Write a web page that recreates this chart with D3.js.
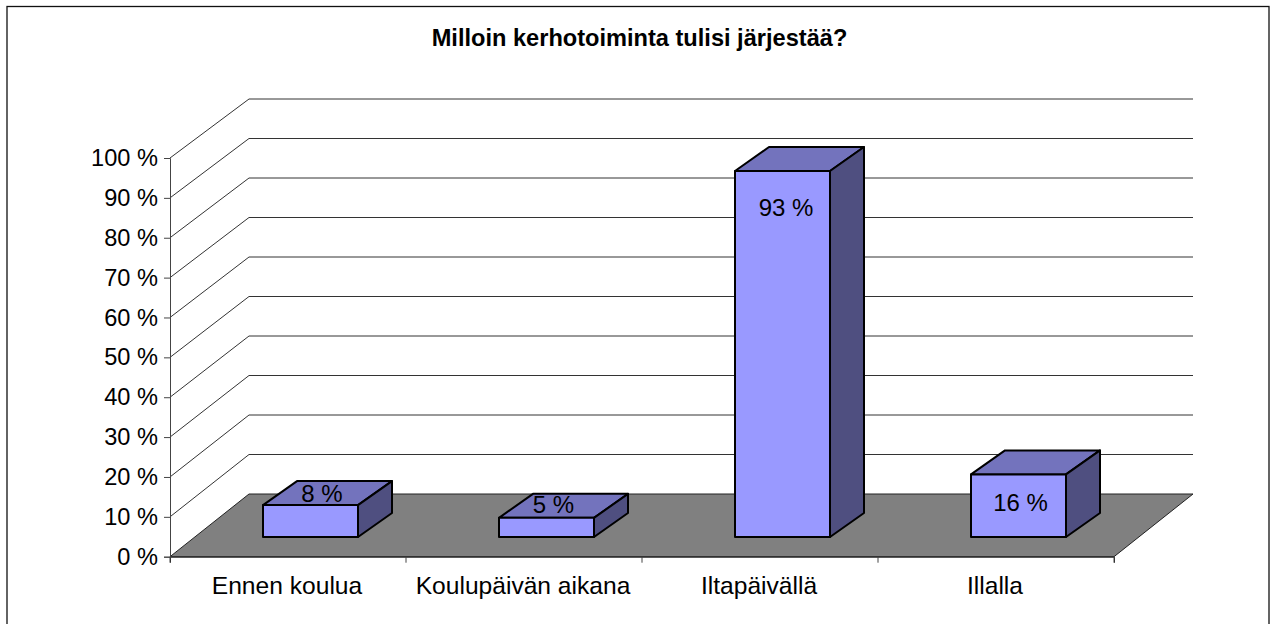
<!DOCTYPE html>
<html>
<head>
<meta charset="utf-8">
<script src="https://d3js.org/d3.v7.min.js"></script>
<style>
    body { margin: 0; background: #fff; }
    svg { display: block; }
    text { font-family: "Liberation Sans", Arial, sans-serif; fill: #000; }
</style>
</head>
<body>
<figure id="chart" style="margin:0"></figure>
<script>
const title = "Milloin kerhotoiminta tulisi järjestää?";
const categories = ["Ennen koulua", "Koulupäivän aikana", "Iltapäivällä", "Illalla"];
// bar heights, the printed labels are a bit different
const barValues = [8, 4.8, 91.8, 15.7];
const barLabels = ["8 %", "5 %", "93 %", "16 %"];
const tickValues = [0, 10, 20, 30, 40, 50, 60, 70, 80, 90, 100];

let dimensions = {
    width: 1274,
    height: 624,
    margin: { top: 158, right: 160, bottom: 67.3, left: 170 },
};
dimensions.boundedWidth = dimensions.width - dimensions.margin.left - dimensions.margin.right;
dimensions.boundedHeight = dimensions.height - dimensions.margin.top - dimensions.margin.bottom;

// 3d offset of the back wall
const depthX = 79;
// bar sits this far into the floor, and has this much depth itself
const barInset = { x: 22, y: 19.7 };
const barDepth = { x: 34, y: 24 };

const svg = d3.select("figure#chart")
    .append("svg")
    .attr("width", dimensions.width)
    .attr("height", dimensions.height);

// chart frame, bottom edge falls outside of the picture
svg.append("rect")
    .attr("x", 7)
    .attr("y", 6.5)
    .attr("width", 1262)
    .attr("height", 640)
    .attr("fill", "#fff")
    .attr("stroke", "#111")
    .attr("stroke-width", 1.3);

svg.append("text")
    .attr("x", 639.5)
    .attr("y", 46)
    .attr("text-anchor", "middle")
    .attr("font-weight", "bold")
    .attr("font-size", 23.6)
    .text(title);

const g = svg.append("g")
    .attr("transform", `translate(${dimensions.margin.left}, ${dimensions.margin.top})`);

const xScale = d3.scaleBand()
    .domain(categories)
    .range([0, dimensions.boundedWidth]);

const yScale = d3.scaleLinear()
    .domain([0, 100])
    .range([dimensions.boundedHeight, 0]);

// back wall comes out a little shorter than the front axis
const yBack = d3.scaleLinear()
    .domain([0, 100])
    .range([dimensions.boundedHeight - 62.7, -59]);

// grid lines run up the side wall and along the back wall
g.selectAll("path.grid")
    .data(tickValues.slice(1))
    .enter()
    .append("path")
    .attr("class", "grid")
    .attr("fill", "none")
    .attr("stroke", "#333")
    .attr("stroke-width", 1)
    .attr("d", d => `M0,${yScale(d)}L${depthX},${yBack(d)}H${dimensions.boundedWidth + depthX}`);

// floor
const y0 = yScale(0);
g.append("path")
    .attr("fill", "#808080")
    .attr("stroke", "#222")
    .attr("stroke-width", 1)
    .attr("d", `M0,${y0}L${depthX},${yBack(0)}H${dimensions.boundedWidth + depthX}L${dimensions.boundedWidth},${y0}Z`);

const xAxis = g.append("g")
    .attr("transform", `translate(0, ${dimensions.boundedHeight})`)
    .call(d3.axisBottom(xScale).tickSize(6).tickValues([]));
xAxis.select(".domain").attr("stroke", "#222");

// category separators, axisBottom puts its own ticks mid band
g.selectAll("line.sep")
    .data(d3.range(categories.length + 1))
    .enter()
    .append("line")
    .attr("class", "sep")
    .attr("x1", i => i * xScale.bandwidth())
    .attr("x2", i => i * xScale.bandwidth())
    .attr("y1", dimensions.boundedHeight)
    .attr("y2", dimensions.boundedHeight + 6)
    .attr("stroke", "#444");

g.selectAll("text.cat")
    .data(categories)
    .enter()
    .append("text")
    .attr("class", "cat")
    .attr("x", d => xScale(d) + xScale.bandwidth() / 2 - 1)
    .attr("y", dimensions.boundedHeight + 37)
    .attr("text-anchor", "middle")
    .attr("font-size", 24.6)
    .text(d => d);

const yAxis = g.append("g")
    .call(d3.axisLeft(yScale).tickValues(tickValues).tickSize(6).tickPadding(6).tickFormat(d => d + " %"));
yAxis.selectAll("path, line").attr("stroke", "#444");
yAxis.selectAll("text")
    .attr("font-size", 23.6)
    .attr("font-family", "Liberation Sans")
    .attr("fill", "#000");

// bars
const barW = 95;
const barX = d => xScale(d) + barInset.x + (xScale.bandwidth() - 94) / 2;
const baseY = y0 - barInset.y;
const rows = categories.map((c, i) => ({ cat: c, value: barValues[i], label: barLabels[i] }));
const barH = d => y0 - yScale(d.value);

const bars = g.selectAll("g.bar")
    .data(rows)
    .enter()
    .append("g")
    .attr("class", "bar")
    .attr("stroke", "#000")
    .attr("stroke-width", 2)
    .attr("stroke-linejoin", "round");

// top
bars.append("path")
    .attr("fill", "#7373bd")
    .attr("d", d => {
        const x = barX(d.cat), y = baseY - barH(d);
        return `M${x},${y}l${barDepth.x},${-barDepth.y}h${barW}l${-barDepth.x},${barDepth.y}Z`;
    });
// side
bars.append("path")
    .attr("fill", "#4f4f80")
    .attr("d", d => {
        const x = barX(d.cat) + barW, y = baseY - barH(d);
        return `M${x},${y}l${barDepth.x},${-barDepth.y}v${barH(d)}l${-barDepth.x},${barDepth.y}Z`;
    });
// front
bars.append("rect")
    .attr("fill", "#9999ff")
    .attr("x", d => barX(d.cat))
    .attr("y", d => baseY - barH(d))
    .attr("width", barW)
    .attr("height", d => barH(d));

// excel moves the labels around, these are just nudges from the front top corner
const labelDx = [11.5, 7, 3.5, 2];
const labelDy = [-3, -4.7, 45.3, 36.5];
bars.append("text")
    .attr("stroke", "none")
    .attr("x", (d, i) => barX(d.cat) + barW / 2 + labelDx[i])
    .attr("y", (d, i) => baseY - barH(d) + labelDy[i])
    .attr("text-anchor", "middle")
    .attr("font-size", 24)
    .text(d => d.label);
</script>
</body>
</html>
